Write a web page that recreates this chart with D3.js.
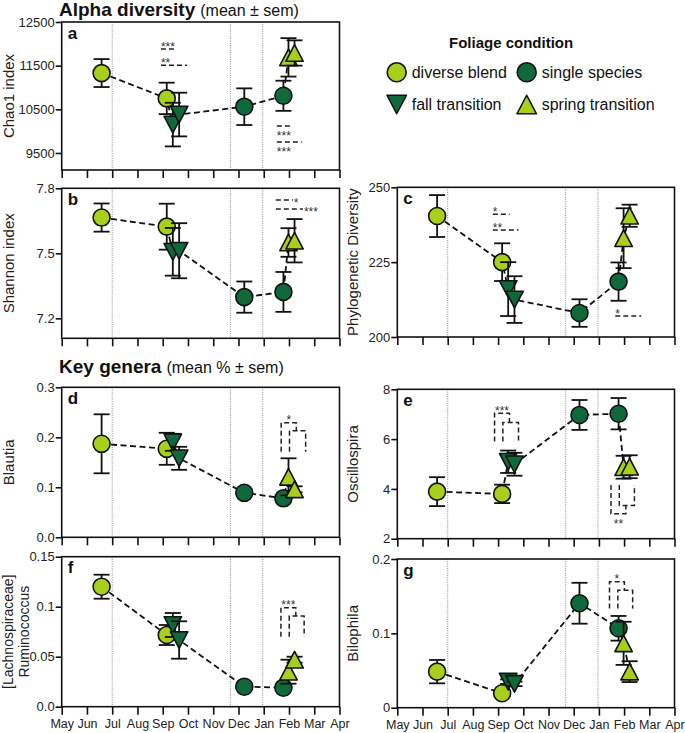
<!DOCTYPE html>
<html>
<head>
<meta charset="utf-8">
<script src="https://cdn.jsdelivr.net/npm/d3@7"></script>
<style>
  body { margin: 0; background: #fff; }
  svg { display: block; font-family: "Liberation Sans", Arial, sans-serif; }
</style>
</head>
<body>
<svg id="fig" width="685" height="733"></svg>
<script>
////////////////////////////
//  data
////////////////////////////
var monthLabels = ['May','Jun','Jul','Aug','Sep','Oct','Nov','Dec','Jan','Feb','Mar','Apr'];
var seasonBreaks = [2.0, 6.68, 7.96];   // months after May 1

// sampling time (months after May 1) and foliage condition of each group
var sampleMonth = [1.58, 4.16, 4.4, 4.65, 7.23, 8.78, 8.98, 9.22];
var sampleGroup = ['diverse','diverse','fall','fall','single','single','spring','spring'];

var chao1Mean   = [11330, 10750, 10150, 10380, 10560, 10810, 11690, 11790];
var chao1Sem    = [320, 360, 500, 500, 420, 345, 440, 290];
var shannonMean = [7.665, 7.623, 7.507, 7.512, 7.298, 7.322, 7.550, 7.558];
var shannonSem  = [0.065, 0.106, 0.11, 0.127, 0.072, 0.092, 0.066, 0.1];
var pdMean      = [240.4, 225, 216, 212.5, 208, 218.5, 233, 240.5];
var pdSem       = [7, 6.3, 9, 7.8, 4.6, 6.4, 10, 3.7];
var blautiaMean = [0.187, 0.177, 0.19, 0.158, 0.089, 0.078, 0.121, 0.096];
var blautiaSem  = [0.059, 0.032, 0.017, 0.023, 0.004, 0.004, 0.037, 0.006];
var oscilloMean = [3.89, 3.8, 5.09, 4.99, 6.97, 7.02, 4.87, 4.89];
var oscilloSem  = [0.58, 0.37, 0.45, 0.46, 0.6, 0.63, 0.46, 0.46];
var rumiMean    = [0.12, 0.0717, 0.0817, 0.0667, 0.02, 0.019, 0.035, 0.047];
var rumiSem     = [0.012, 0.01, 0.012, 0.0187, 0.002, 0.002, 0.012, 0.003];
var biloMean    = [0.0485, 0.0194, 0.035, 0.032, 0.1405, 0.1068, 0.0866, 0.0485];
var biloSem     = [0.0157, 0.002, 0.003, 0.003, 0.0275, 0.0166, 0.029, 0.014];

// significance dashes (month span, value, stars)
var chao1Sig = [
  {from: 3.93, to: 4.56, at: 11880, text: '***', side: 'above'},
  {from: 3.93, to: 4.96, at: 11510, text: '**',  side: 'above'},
  {from: 8.52, to: 9.15, at: 10120, text: '***', side: 'below'},
  {from: 8.52, to: 9.51, at: 9750,  text: '***', side: 'below'}
];
var shannonSig = [
  {from: 8.48, to: 9.15, at: 7.746, text: '*',   side: 'right'},
  {from: 8.48, to: 9.55, at: 7.704, text: '***', side: 'right'}
];
var pdSig = [
  {from: 3.79, to: 4.46, at: 240.96, text: '*',  side: 'above'},
  {from: 3.79, to: 4.81, at: 235.7,  text: '**', side: 'above'},
  {from: 8.65, to: 9.68, at: 207,    text: '*',  side: 'above'}
];
// nested brackets (leg months, extreme / middle / base values, stars)
var blautiaBr = [{legs: [8.69, 9.02, 9.29, 9.66], ext: 0.229, mid: 0.213, base: 0.171, text: '*'}];
var oscilloBr = [
  {legs: [3.86, 4.19, 4.45, 4.81], ext: 7.04, mid: 6.67, base: 5.9, text: '***'},
  {legs: [8.48, 8.81, 9.07, 9.41], ext: 3.0, mid: 3.33, base: 4.16, text: '**'}
];
var rumiBr = [{legs: [8.68, 9.01, 9.27, 9.6], ext: 0.099, mid: 0.0907, base: 0.07, text: '***'}];
var biloBr = [{legs: [8.42, 8.75, 9.01, 9.34], ext: 0.1695, mid: 0.158, base: 0.1335, text: '*'}];

var legendItems = [
  {key: 'diverse', label: 'diverse blend'},
  {key: 'single',  label: 'single species'},
  {key: 'fall',    label: 'fall transition'},
  {key: 'spring',  label: 'spring transition'}
];

////////////////////////////
//  layout + style
////////////////////////////
var light = '#a7cf1c';
var dark = '#10693a';
var style = {
  diverse: {shape: 'circle', fill: light},
  single:  {shape: 'circle', fill: dark},
  fall:    {shape: 'down',   fill: dark},
  spring:  {shape: 'up',     fill: light}
};
var cols = [{x0: 61.7, x1: 339.5, ylab: 14}, {x0: 397.3, x1: 674.5, ylab: 357.5}];

var panels = [
  {id: 'a', col: 0, top: 22,    bottom: 170,   domain: [9110, 12500], ticks: [9500, 10500, 11500, 12500], fmt: d3.format('d'),
   label: ['Chao1 index'], mean: chao1Mean, sem: chao1Sem, sig: chao1Sig, br: []},
  {id: 'b', col: 0, top: 188.3, bottom: 338.3, domain: [7.108, 7.8], ticks: [7.2, 7.5, 7.8], fmt: d3.format('.1f'),
   label: ['Shannon index'], mean: shannonMean, sem: shannonSem, sig: shannonSig, br: []},
  {id: 'c', col: 1, top: 187.3, bottom: 337,   domain: [200, 250], ticks: [200, 225, 250], fmt: d3.format('d'),
   label: ['Phylogenetic Diversity'], mean: pdMean, sem: pdSem, sig: pdSig, br: []},
  {id: 'd', col: 0, top: 387.3, bottom: 537.3, domain: [0, 0.3], ticks: [0, 0.1, 0.2, 0.3], fmt: d3.format('.1f'),
   label: ['Blautia'], mean: blautiaMean, sem: blautiaSem, sig: [], br: blautiaBr},
  {id: 'e', col: 1, top: 389.3, bottom: 538.7, domain: [2, 8], ticks: [2, 4, 6, 8], fmt: d3.format('d'),
   label: ['Oscillospira'], mean: oscilloMean, sem: oscilloSem, sig: [], br: oscilloBr},
  {id: 'f', col: 0, top: 556.7, bottom: 706.7, domain: [0, 0.15], ticks: [0, 0.05, 0.1, 0.15], fmt: d => d === 0 ? '0.0' : String(d),
   label: ['[Lachnospiraceae]', 'Ruminococcus'], mean: rumiMean, sem: rumiSem, sig: [], br: rumiBr, months: true},
  {id: 'g', col: 1, top: 559,   bottom: 707.7, domain: [0, 0.2], ticks: [0, 0.1, 0.2], fmt: d => String(d),
   label: ['Bilophila'], mean: biloMean, sem: biloSem, sig: [], br: biloBr, months: true}
];

var svg = d3.select('#fig');

function markerPath(shape, s) {
  var w = s * 1.0, h = s * 0.95;
  if (shape === 'up') return `M0,${-h/2}L${w/2},${h/2}L${-w/2},${h/2}Z`;
  return `M0,${h/2}L${w/2},${-h/2}L${-w/2},${-h/2}Z`;
}

function drawMarker(sel, key, r) {
  var st = style[key];
  if (st.shape === 'circle') {
    sel.append('circle').attr('r', r).attr('fill', st.fill)
      .attr('stroke', '#111').attr('stroke-width', 1.6);
  } else {
    sel.append('path').attr('d', markerPath(st.shape, r * 2.05)).attr('fill', st.fill)
      .attr('stroke', '#111').attr('stroke-width', 1.6).attr('stroke-linejoin', 'round');
  }
}

////////////////////////////
//  titles + legend
////////////////////////////
function title(y, bold, rest) {
  var t = svg.append('text').attr('x', 59).attr('y', y).attr('fill', '#111');
  t.append('tspan').attr('font-size', 19).attr('font-weight', 'bold').text(bold);
  t.append('tspan').attr('font-size', 16).attr('dx', 5).text(rest);
}
title(16, 'Alpha diversity', '(mean ± sem)');
title(373, 'Key genera', '(mean % ± sem)');

svg.append('text').attr('x', 449).attr('y', 48).attr('font-size', 15)
  .attr('font-weight', 'bold').attr('fill', '#111').text('Foliage condition');

var leg = svg.append('g').selectAll('g').data(legendItems).join('g')
  .attr('transform', (d, i) => `translate(${i % 2 ? 526.7 : 396.7},${i < 2 ? 72.3 : 104.5})`);
leg.each(function(d) { drawMarker(d3.select(this), d.key, 9.5); });
leg.append('text').attr('x', 15).attr('y', 5.5).attr('font-size', 16)
  .attr('fill', '#111').text(d => d.label);

////////////////////////////
//  panels
////////////////////////////
panels.forEach(function(p) {
  var col = cols[p.col];
  var x = d3.scaleLinear().domain([0, 11]).range([col.x0, col.x1]);
  var y = d3.scaleLinear().domain(p.domain).range([p.bottom, p.top]);
  var g = svg.append('g').attr('class', 'panel');

  // season dividers
  g.selectAll('.sep').data(seasonBreaks).join('line')
    .attr('x1', d => x(d)).attr('x2', d => x(d))
    .attr('y1', p.top).attr('y2', p.bottom)
    .attr('stroke', '#8a8a8a').attr('stroke-width', 1).attr('stroke-dasharray', '1,1.3');

  // axes
  var xa = g.append('g').attr('transform', `translate(0,${p.bottom})`)
    .call(d3.axisBottom(x).tickValues(d3.range(12)).tickSize(8).tickSizeOuter(0).tickPadding(4)
      .tickFormat(p.months ? (i => monthLabels[i]) : ''));
  var ya = g.append('g').attr('transform', `translate(${col.x0},0)`)
    .call(d3.axisLeft(y).tickValues(p.ticks).tickSize(6).tickSizeOuter(0).tickPadding(1).tickFormat(p.fmt));
  [xa, ya].forEach(a => {
    a.select('.domain').remove();
    a.selectAll('.tick line').attr('stroke', '#111').attr('stroke-width', 1.6);
    a.selectAll('.tick text').attr('fill', '#222').attr('font-family', '"Liberation Sans", Arial, sans-serif');
  });
  xa.selectAll('.tick text').attr('font-size', 12.5);
  ya.selectAll('.tick text').attr('font-size', 13);

  g.append('rect').attr('x', col.x0).attr('y', p.top)
    .attr('width', col.x1 - col.x0).attr('height', p.bottom - p.top)
    .attr('fill', 'none').attr('stroke', '#111').attr('stroke-width', 1.6);

  // panel letter
  g.append('text').attr('x', col.x0 + 6).attr('y', p.top + 16.5)
    .attr('font-size', 17).attr('font-weight', 'bold').attr('fill', '#111').text(p.id);

  // y label
  var cy = (p.top + p.bottom) / 2;
  var two = p.label.length > 1;
  var lab = g.append('text').attr('transform', `translate(${two ? 12.5 : col.ylab},${cy}) rotate(-90)`)
    .attr('text-anchor', 'middle').attr('font-size', two ? 14 : 15).attr('fill', '#222');
  p.label.forEach((t, i) => lab.append('tspan').attr('x', 0).attr('dy', i ? 16 : 0).text(t));

  // significance dashes
  p.sig.forEach(function(s) {
    g.append('line').attr('x1', x(s.from)).attr('x2', x(s.to))
      .attr('y1', y(s.at)).attr('y2', y(s.at))
      .attr('stroke', '#222').attr('stroke-width', 1.5).attr('stroke-dasharray', '5,3');
    var tx = s.side === 'right' ? x(s.to) + 1 : x(s.from);
    var ty = y(s.at) + (s.side === 'above' ? 1.5 : s.side === 'below' ? 14 : 6.5);
    g.append('text').attr('x', tx).attr('y', ty).attr('font-size', 12)
      .attr('fill', '#333').text(s.text);
  });

  // nested brackets
  p.br.forEach(function(b) {
    var L = b.legs.map(x);
    var outer = [[L[0], y(b.base)], [L[0], y(b.ext)], [L[2], y(b.ext)], [L[2], y(b.mid)]];
    var inner = [[L[1], y(b.base)], [L[1], y(b.mid)], [L[3], y(b.mid)], [L[3], y(b.base)]];
    [outer, inner].forEach(pts => g.append('path').attr('d', d3.line()(pts))
      .attr('fill', 'none').attr('stroke', '#222').attr('stroke-width', 1.5).attr('stroke-dasharray', '5,3'));
    var up = b.ext > b.base;
    g.append('text').attr('x', (L[0] + L[2]) / 2).attr('y', y(b.ext) + (up ? 1.5 : 14))
      .attr('text-anchor', 'middle').attr('font-size', 12).attr('fill', '#333').text(b.text);
  });

  // connecting dashed line
  var idx = d3.range(sampleMonth.length);
  g.append('path')
    .attr('d', d3.line().x(i => x(sampleMonth[i])).y(i => y(p.mean[i]))(idx))
    .attr('fill', 'none').attr('stroke', '#111').attr('stroke-width', 1.8).attr('stroke-dasharray', '6,3.5');

  // error bars + markers
  var pts = g.selectAll('.pt').data(idx).join('g').attr('class', 'pt')
    .attr('transform', i => `translate(${x(sampleMonth[i])},0)`);
  pts.each(function(i) {
    var s = d3.select(this);
    var hi = y(p.mean[i] + p.sem[i]), lo = y(p.mean[i] - p.sem[i]);
    s.append('line').attr('y1', hi).attr('y2', lo).attr('stroke', '#111').attr('stroke-width', 1.8);
    [hi, lo].forEach(v => s.append('line').attr('x1', -8).attr('x2', 8).attr('y1', v).attr('y2', v)
      .attr('stroke', '#111').attr('stroke-width', 1.8));
    var m = s.append('g').attr('transform', `translate(0,${y(p.mean[i])})`);
    drawMarker(m, sampleGroup[i], 8.5);
  });
});
</script>
</body>
</html>
